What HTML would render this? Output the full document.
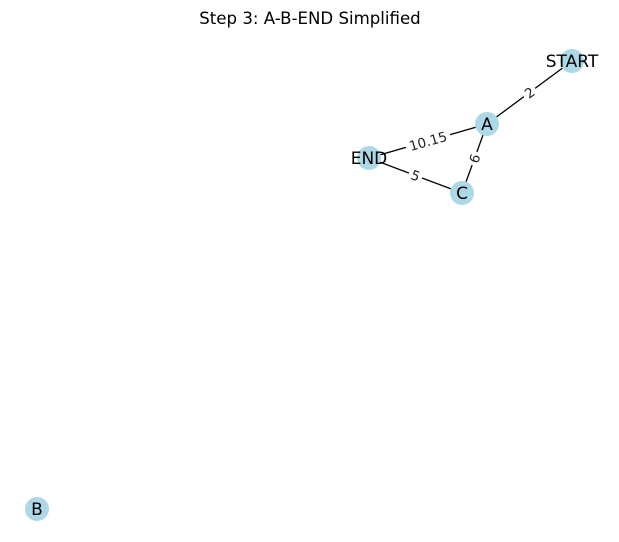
<!DOCTYPE html>
<html><head><style>body{margin:0;background:#fff}svg{display:block}</style></head><body>
<svg width="619" height="542" viewBox="0 0 619 542" font-family="DejaVu Sans, sans-serif">
<text x="310" y="24" font-size="16.6" text-anchor="middle">Step 3: A-B-END Simplified</text>
<g stroke="#000" stroke-width="1.3">
<line x1="572" y1="61" x2="487" y2="124"/>
<line x1="487" y1="124" x2="369" y2="158"/>
<line x1="487" y1="124" x2="462" y2="193"/>
<line x1="369" y1="158" x2="462" y2="193"/>
</g>
<g fill="#fff">
<rect x="-7" y="-9" width="14" height="18" transform="translate(529.5,92.5) rotate(-36.5)"/>
<rect x="-23" y="-9" width="46" height="18" transform="translate(428,141) rotate(-16)"/>
<rect x="-7" y="-9" width="14" height="18" transform="translate(474.5,158.5) rotate(-70)"/>
<rect x="-7" y="-9" width="14" height="18" transform="translate(415.5,175.5) rotate(20.6)"/>
</g>
<g font-size="13.5" text-anchor="middle" fill="#222">
<text transform="translate(529.5,92.5) rotate(-36.5)" y="5">2</text>
<text transform="translate(428,141) rotate(-16)" y="5">10.15</text>
<text transform="translate(474.5,158.5) rotate(-70)" y="5">6</text>
<text transform="translate(415.5,175.5) rotate(20.6)" y="5">5</text>
</g>
<g fill="#add8e6">
<circle cx="572" cy="61" r="12"/>
<circle cx="487" cy="124" r="12"/>
<circle cx="369" cy="158" r="12"/>
<circle cx="462" cy="193" r="12"/>
<circle cx="37" cy="509" r="12"/>
</g>
<g font-size="17" text-anchor="middle">
<text x="572" y="67">START</text>
<text x="487" y="130">A</text>
<text x="369" y="164">END</text>
<text x="462" y="199">C</text>
<text x="37" y="515">B</text>
</g>
</svg>
</body></html>
